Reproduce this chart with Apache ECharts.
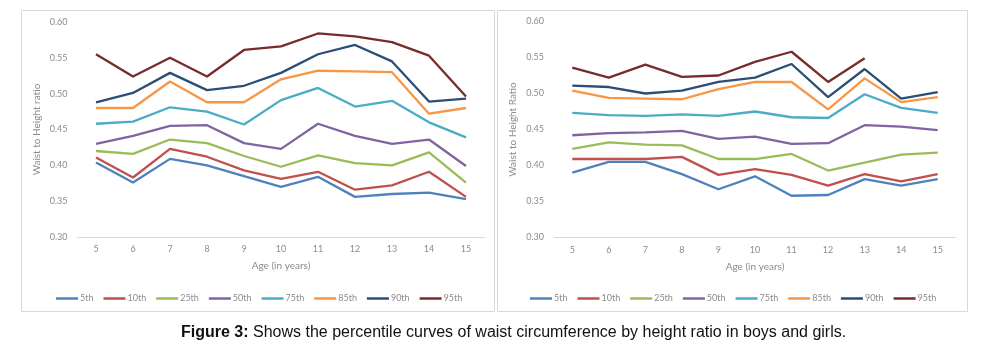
<!DOCTYPE html>
<html>
<head>
<meta charset="utf-8">
<script src="https://cdn.jsdelivr.net/npm/echarts@6/dist/echarts.min.js"></script>
<style>
html,body{margin:0;padding:0;background:#fff;}
#c{width:995px;height:344px;}
</style>
</head>
<body>
<div id="c"></div>
<script>
// ---- data ----
var ages = ['5','6','7','8','9','10','11','12','13','14','15'];
var percentiles = ['5th','10th','25th','50th','75th','85th','90th','95th'];
var yTicks = [0.30, 0.35, 0.40, 0.45, 0.50, 0.55, 0.60];

// Boys (left chart)
var boys5  = [0.404,0.376,0.409,0.400,0.385,0.370,0.384,0.356,0.360,0.362,0.353];
var boys10 = [0.411,0.383,0.423,0.412,0.393,0.381,0.391,0.366,0.372,0.391,0.356];
var boys25 = [0.420,0.416,0.436,0.431,0.413,0.398,0.414,0.403,0.400,0.418,0.376];
var boys50 = [0.430,0.441,0.455,0.456,0.431,0.423,0.458,0.441,0.430,0.436,0.399];
var boys75 = [0.458,0.461,0.481,0.475,0.457,0.491,0.508,0.482,0.490,0.460,0.439];
var boys85 = [0.480,0.480,0.517,0.488,0.488,0.520,0.532,0.531,0.530,0.472,0.480];
var boys90 = [0.488,0.501,0.529,0.505,0.511,0.529,0.555,0.568,0.545,0.489,0.493];
var boys95 = [0.555,0.524,0.550,0.524,0.561,0.566,0.584,0.580,0.572,0.553,0.496];

// Girls (right chart)
var girls5  = [0.390,0.405,0.405,0.388,0.367,0.385,0.358,0.359,0.381,0.372,0.381];
var girls10 = [0.409,0.409,0.409,0.412,0.387,0.395,0.387,0.372,0.388,0.378,0.388];
var girls25 = [0.423,0.432,0.429,0.428,0.409,0.409,0.416,0.393,0.404,0.415,0.418];
var girls50 = [0.442,0.445,0.446,0.448,0.437,0.440,0.430,0.431,0.456,0.454,0.449];
var girls75 = [0.473,0.470,0.469,0.471,0.469,0.475,0.467,0.466,0.499,0.480,0.473];
var girls85 = [0.504,0.494,0.493,0.492,0.506,0.516,0.516,0.478,0.521,0.488,0.495];
var girls90 = [0.511,0.509,0.500,0.504,0.516,0.522,0.541,0.495,0.534,0.493,0.502];
var girls95 = [0.536,0.522,0.540,0.523,0.525,0.544,0.558,0.516,0.549,null,null];

var colors = ['#4F81BD','#C0504D','#9BBB59','#8064A2','#4BACC6','#F79646','#2C4D75','#772C2A'];

var boysData = [boys5,boys10,boys25,boys50,boys75,boys85,boys90,boys95];
var girlsData = [girls5,girls10,girls25,girls50,girls75,girls85,girls90,girls95];

var FONT = 'Lato, "Open Sans", sans-serif';
var TXT = '#8c8c8c';

function xAxisFor(idx){
  return {
    type:'category', gridIndex: idx, data: ages, boundaryGap: true,
    name: 'Age (in years)', nameLocation: 'middle', nameGap: 24,
    nameTextStyle: {color: TXT, fontSize: 10, fontFamily: FONT},
    axisLine: {show:true, lineStyle:{color:'#d9d9d9', width:1}},
    axisTick: {show:false},
    axisLabel: {color: TXT, fontSize: 9, fontFamily: FONT, margin: 8},
    splitLine: {show:false}
  };
}
function yAxisFor(idx, nm){
  return {
    type:'value', gridIndex: idx,
    min: yTicks[0], max: yTicks[yTicks.length-1], interval: 0.05,
    name: nm, nameLocation: 'middle', nameGap: 36, nameRotate: 90,
    nameTextStyle: {color: TXT, fontSize: 10, fontFamily: FONT},
    axisLine: {show:false}, axisTick: {show:false},
    axisLabel: {color: TXT, fontSize: 9, fontFamily: FONT, margin: 10,
      formatter: function(v){ return v.toFixed(2); }},
    splitLine: {show:false}
  };
}

var series = [];
percentiles.forEach(function(p, i){
  series.push({name:p, type:'line', xAxisIndex:0, yAxisIndex:0, data: boysData[i],
    symbol:'none', lineStyle:{width:2.3, color:colors[i]}, itemStyle:{color:colors[i]}, animation:false});
});
percentiles.forEach(function(p, i){
  series.push({name:p, type:'line', xAxisIndex:1, yAxisIndex:1, data: girlsData[i],
    symbol:'none', lineStyle:{width:2.3, color:colors[i]}, itemStyle:{color:colors[i]}, animation:false});
});

function legendFor(centerX){
  return {
    data: percentiles, top: 289, left: centerX - 207, width: 440,
    icon: 'rect', itemWidth: 22, itemHeight: 2.5, itemGap: 10,
    textStyle: {color: TXT, fontSize: 9, fontFamily: FONT, padding:[0,0,0,-3]},
    selectedMode: false
  };
}

var chart = echarts.init(document.getElementById('c'), null, {renderer:'canvas'});
chart.setOption({
  backgroundColor: '#fff',
  animation: false,
  color: colors,
  graphic: [
    {type:'rect', shape:{x:21.5, y:10.5, width:473, height:301}, style:{fill:'none', stroke:'#d9d9d9', lineWidth:1}, z:-1},
    {type:'rect', shape:{x:497.5, y:10.5, width:470, height:301}, style:{fill:'none', stroke:'#d9d9d9', lineWidth:1}, z:-1}
  ],
  title: {
    text: '{b|Figure 3:} Shows the percentile curves of waist circumference by height ratio in boys and girls.',
    left: 176, top: 320,
    textStyle: {
      fontSize: 16, fontWeight: 'normal', color: '#111', fontFamily: '"Liberation Sans", Arial, sans-serif',
      rich: { b: {fontWeight:'bold', fontSize:16, color:'#111', fontFamily:'"Liberation Sans", Arial, sans-serif'} }
    }
  },
  grid: [
    {left: 77.5, top: 22, width: 407, height: 215, containLabel:false},
    {left: 554, top: 21.5, width: 402, height: 216, containLabel:false}
  ],
  xAxis: [xAxisFor(0), xAxisFor(1)],
  yAxis: [yAxisFor(0,'Waist to Height ratio'), yAxisFor(1,'Waist to Height Ratio')],
  legend: [legendFor(258), legendFor(732)],
  series: series
});
</script>
</body>
</html>
